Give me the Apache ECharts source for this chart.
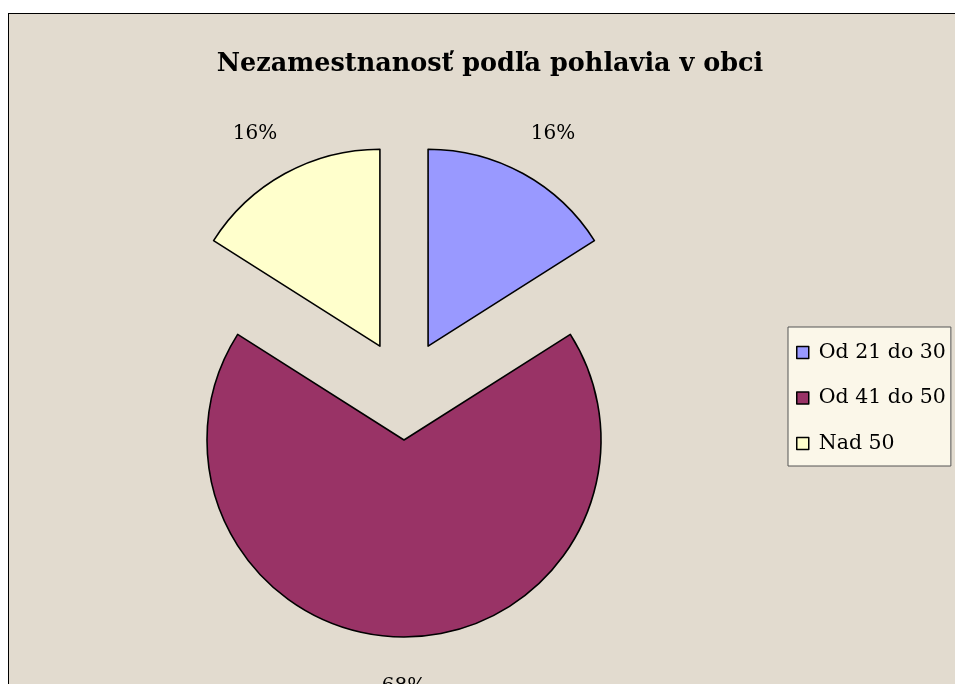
<!DOCTYPE html>
<html>
<head>
<meta charset="utf-8">
<script src="https://cdn.jsdelivr.net/npm/echarts@6/dist/echarts.min.js"></script>
<style>
html,body{margin:0;padding:0;background:#fff;}
#frame{position:absolute;left:8px;top:13px;width:960px;height:700px;border:1px solid #000;background:#E2DBCF;}
#chart{position:absolute;left:0;top:0;width:955px;height:684px;}
</style>
</head>
<body>
<div id="frame"></div>
<div id="chart"></div>
<script>
const titleText = "Nezamestnanosť podľa pohlavia v obci";
const categories = ["Od 21 do 30", "Od 41 do 50", "Nad 50"];
const values = [16, 68, 16];
const colors = ["#9999FF", "#993366", "#FFFFCC"];

const FONT = "'DejaVu Serif', 'Liberation Serif', serif";
const chart = echarts.init(document.getElementById('chart'), null, {renderer: 'canvas'});
chart.setOption({
  backgroundColor: 'transparent',
  animation: false,
  title: {
    text: titleText,
    left: 485, top: 46, textAlign: 'center',
    textStyle: {fontFamily: FONT, fontWeight: 'bold', fontSize: 25.5, color: '#000'}
  },
  legend: {
    orient: 'vertical',
    left: 788, top: 327,
    padding: [15, 5, 12, 8],
    backgroundColor: '#FBF7E9',
    borderColor: '#555',
    borderWidth: 1,
    itemWidth: 12, itemHeight: 12,
    itemGap: 24.5,
    icon: 'rect',
    selectedMode: false,
    itemStyle: {borderColor: '#000', borderWidth: 1.5},
    textStyle: {fontFamily: FONT, fontSize: 20.5, color: '#000', padding: [0,0,0,5]},
    data: categories
  },
  series: [{
    type: 'pie',
    center: [404, 390],
    radius: 197,
    startAngle: 90,
    clockwise: true,
    selectedMode: 'multiple',
    selectedOffset: 50,
    emphasis: {disabled: true},
    itemStyle: {borderColor: '#000', borderWidth: 1.6},
    label: {
      show: true,
      position: 'outside',
      formatter: '{d}%',
      fontFamily: FONT, fontSize: 20, color: '#000',
      distanceToLabelLine: 0
    },
    labelLine: {show: false, length: 50, length2: 0},
    labelLayout: function (p) {
      const side = p.dataIndex === 0 ? 1 : (p.dataIndex === 2 ? -1 : 0);
      return {align: 'center', verticalAlign: 'middle', dx: side * 6, dy: side !== 0 ? 4 : 0};
    },
    data: categories.map((c, i) => ({
      name: c, value: values[i], selected: true,
      itemStyle: {color: colors[i]}
    }))
  }]
});
</script>
</body>
</html>
